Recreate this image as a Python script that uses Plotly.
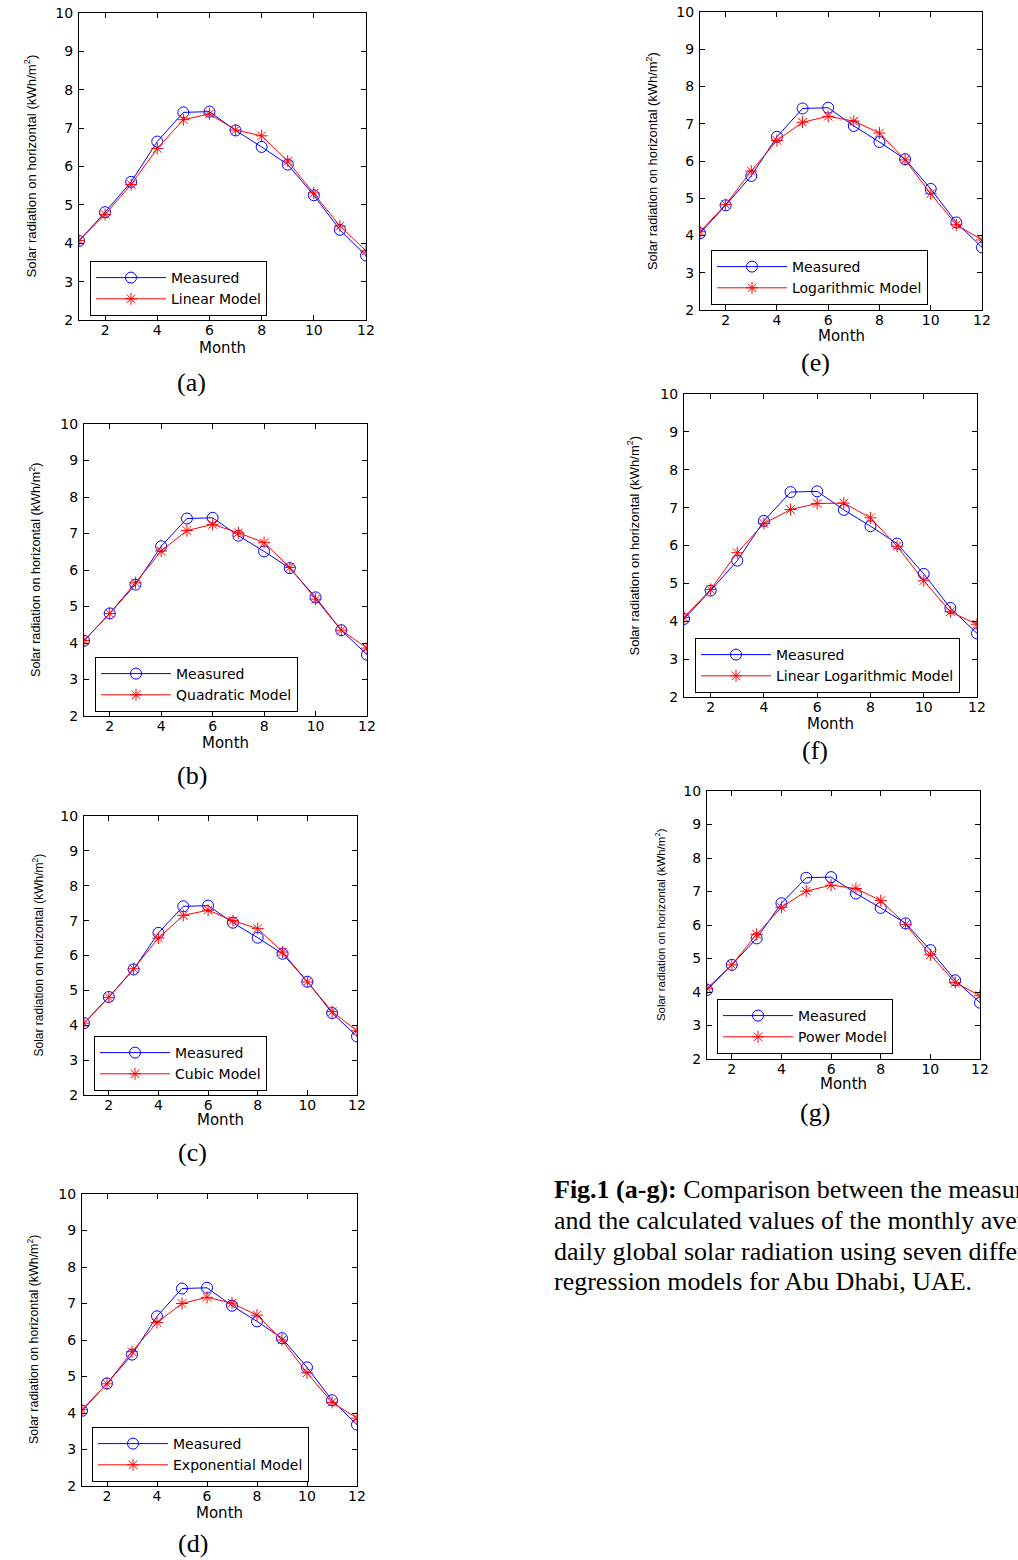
import plotly.graph_objects as go

# ---------------- data ----------------
months = list(range(1, 13))
measured = [4.06, 4.81, 5.60, 6.65, 7.41, 7.43, 6.94, 6.51, 6.05, 5.25, 4.35, 3.68]
linear_model = [4.07, 4.75, 5.53, 6.47, 7.22, 7.37, 6.95, 6.80, 6.14, 5.31, 4.45, 3.80]
quadratic_model = [4.07, 4.81, 5.65, 6.52, 7.08, 7.25, 7.02, 6.75, 6.07, 5.20, 4.35, 3.86]
cubic_model = [4.06, 4.80, 5.62, 6.50, 7.15, 7.30, 7.00, 6.77, 6.10, 5.24, 4.39, 3.84]
exponential_model = [4.09, 4.80, 5.68, 6.48, 7.00, 7.17, 7.01, 6.68, 6.00, 5.10, 4.29, 3.86]
logarithmic_model = [4.10, 4.83, 5.73, 6.55, 7.04, 7.20, 7.07, 6.75, 6.03, 5.12, 4.29, 3.88]
linear_log_model = [4.10, 4.84, 5.81, 6.58, 6.95, 7.11, 7.12, 6.73, 5.98, 5.07, 4.25, 3.92]
power_model = [4.11, 4.81, 5.72, 6.53, 7.01, 7.19, 7.09, 6.73, 6.02, 5.11, 4.28, 3.89]

model_series = [linear_model, quadratic_model, cubic_model, exponential_model,
                logarithmic_model, linear_log_model, power_model]
model_names = ["Linear Model", "Quadratic Model", "Cubic Model", "Exponential Model",
               "Logarithmic Model", "Linear Logarithmic Model", "Power Model"]
panel_letters = ["(a)", "(b)", "(c)", "(d)", "(e)", "(f)", "(g)"]
x_tick_values = [2, 4, 6, 8, 10, 12]
y_tick_values = [2, 3, 4, 5, 6, 7, 8, 9, 10]
y_title = "Solar radiation on horizontal (kWh/m<sup>2</sup>)"
x_title = "Month"
caption_lines = [
    "<b>Fig.1 (a-g):</b> Comparison between the measured",
    "and the calculated values of the monthly average",
    "daily global solar radiation using seven different",
    "regression models for Abu Dhabi, UAE.",
]

# ---------------- layout geometry (pixels) ----------------
W, H = 1018, 1560
# left, right, top, bottom of each axes box
boxes = [
    (79, 366, 13, 320),
    (84, 367, 424, 716),
    (84, 357, 816, 1095),
    (82, 357, 1194, 1486),
    (700, 982, 12, 310),
    (684, 977, 394, 697),
    (707, 980, 791, 1059),
]
# legend left / bottom
legend_pos = [(90, 316), (95, 712), (94, 1091), (92, 1482), (711, 305), (695, 693), (717, 1054)]
# y-title centre x and text length
ytitle_x = [31, 35, 37, 33, 652, 633, 660]
ytitle_len = [223, 214, 203, 210, 218, 220, 193]
month_y = [348, 743, 1120, 1513, 336, 724, 1084]
letter_pos = [(191, 382), (192, 775), (192, 1152), (193, 1543), (815, 362), (815, 750), (815, 1112)]
caption_x = 552
caption_y = [1189, 1220, 1251, 1281]

TICK_FONT = dict(family="DejaVu Sans, Verdana, sans-serif", size=14, color="black")
SANS = "Liberation Sans, Arial, sans-serif"
SERIF = "Liberation Serif, Times New Roman, serif"


def px(x):
    return x / W


def py(y):
    return 1 - y / H


fig = go.Figure()
annotations = []
layout_updates = {}

for i, model in enumerate(model_series):
    suf = "" if i == 0 else str(i + 1)
    xa, ya = "x" + suf, "y" + suf
    leg = "legend" + suf
    l, r, t, b = boxes[i]

    fig.add_trace(go.Scatter(
        x=months, y=measured, mode="lines+markers", name="Measured",
        line=dict(color="#0000ff", width=1),
        marker=dict(symbol="circle-open", size=11, color="#0000ff", line=dict(width=1, color="#0000ff")),
        xaxis=xa, yaxis=ya, legend=leg, showlegend=True))
    fig.add_trace(go.Scatter(
        x=months, y=model, mode="lines+markers", name=model_names[i],
        line=dict(color="#ff0000", width=1),
        marker=dict(symbol="asterisk-open", size=10, color="#ff0000", line=dict(width=1, color="#ff0000")),
        xaxis=xa, yaxis=ya, legend=leg, showlegend=True))

    layout_updates["xaxis" + suf] = dict(
        domain=[px(l), px(r)], range=[1, 12], anchor=ya, tickvals=x_tick_values,
        ticks="inside", ticklen=5, tickcolor="black", showline=True, linecolor="black",
        linewidth=1, mirror="ticks", showgrid=False, zeroline=False, tickfont=TICK_FONT,
        ticklabelstandoff=-3)
    layout_updates["yaxis" + suf] = dict(
        domain=[py(b), py(t)], range=[2, 10], anchor=xa, tickvals=y_tick_values,
        ticks="inside", ticklen=5, tickcolor="black", showline=True, linecolor="black",
        linewidth=1, mirror="ticks", showgrid=False, zeroline=False, tickfont=TICK_FONT,
        ticklabelstandoff=2)

    lx, lb = legend_pos[i]
    layout_updates[leg] = dict(
        x=px(lx), y=py(lb), xanchor="left", yanchor="bottom", xref="paper", yref="paper",
        bgcolor="white", bordercolor="black", borderwidth=1, itemwidth=70,
        font=dict(family="DejaVu Sans, Verdana, sans-serif", size=14, color="black"),
        tracegroupgap=0)

    # y axis title
    annotations.append(dict(
        text=y_title, x=px(ytitle_x[i]), y=py((t + b) / 2), xref="paper", yref="paper",
        textangle=-90, showarrow=False, xanchor="center", yanchor="middle",
        font=dict(family=SANS, size=round(ytitle_len[i] / 16.9, 1), color="black")))
    # x axis title
    annotations.append(dict(
        text=x_title, x=px((l + r) / 2), y=py(month_y[i]), xref="paper", yref="paper",
        showarrow=False, xanchor="center", yanchor="middle",
        font=dict(family="DejaVu Sans, Verdana, sans-serif", size=15, color="black")))
    # panel letter
    lx2, ly2 = letter_pos[i]
    annotations.append(dict(
        text=panel_letters[i], x=px(lx2), y=py(ly2), xref="paper", yref="paper",
        showarrow=False, xanchor="center", yanchor="middle",
        font=dict(family=SERIF, size=26, color="black")))

for j, line in enumerate(caption_lines):
    annotations.append(dict(
        text=line, x=px(caption_x), y=py(caption_y[j]), xref="paper", yref="paper",
        showarrow=False, xanchor="left", yanchor="middle", align="left",
        font=dict(family=SERIF, size=26, color="black")))

fig.update_layout(**layout_updates)
fig.update_layout(
    width=W, height=H,
    margin=dict(l=0, r=0, t=0, b=0, pad=0, autoexpand=False),
    paper_bgcolor="white", plot_bgcolor="white",
    annotations=annotations,
)

fig.write_html("out.html", config={"displayModeBar": False},
               post_script="document.body.style.margin='0px';document.body.style.overflow='hidden';")
